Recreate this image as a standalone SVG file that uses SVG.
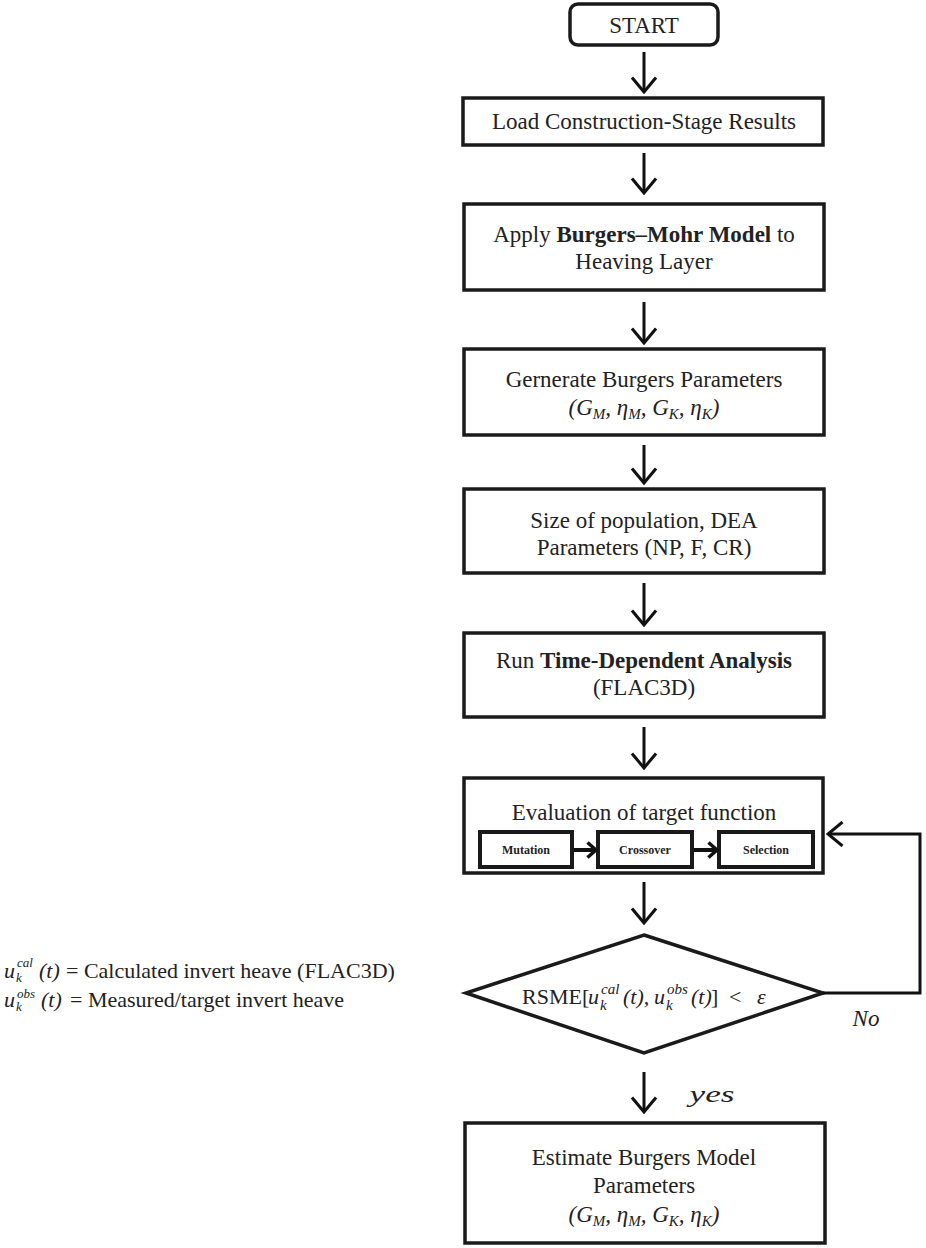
<svg xmlns="http://www.w3.org/2000/svg" width="926" height="1248" viewBox="0 0 926 1248">
<style>
.box{fill:#fff;stroke:#1a1a1a;stroke-width:3.5}
.mini{fill:#fff;stroke:#1a1a1a;stroke-width:4}
.t{font-family:"Liberation Serif","Times New Roman",serif;font-size:23px;fill:#222;text-anchor:middle}
.s{font-family:"Liberation Serif","Times New Roman",serif;font-size:22px;fill:#222}
.b{font-weight:bold}
.m{font-family:"Liberation Serif","Times New Roman",serif;font-style:italic}
.mt{font-family:"Liberation Serif","Times New Roman",serif;font-size:12px;font-weight:bold;fill:#222;text-anchor:middle}
.sm{font-family:"Liberation Serif","Times New Roman",serif;font-style:italic;font-size:15px;fill:#222}
.ls{font-family:"Liberation Serif","Times New Roman",serif;font-style:italic;font-size:13px;fill:#222}
.c{fill:none;stroke:#111;stroke-width:3}
.cs{fill:none;stroke:#111;stroke-width:4}
</style>
<defs>
<marker id="ah" markerUnits="userSpaceOnUse" viewBox="0 0 18 26" refX="16" refY="13" markerWidth="18" markerHeight="26" orient="auto">
<path d="M1.5,1 L16,13 L1.5,25" fill="none" stroke="#111" stroke-width="3"/>
</marker>
<marker id="ahs" markerUnits="userSpaceOnUse" viewBox="0 0 12 18" refX="10" refY="9" markerWidth="12" markerHeight="18" orient="auto">
<path d="M1.5,1.5 L10,9 L1.5,16.5" fill="none" stroke="#111" stroke-width="3.5"/>
</marker>
</defs>
<rect width="926" height="1248" fill="#fff"/>

<g id="start">
<rect class="box" x="570" y="4" width="148" height="41" rx="8"/>
<text class="t" x="644" y="33" font-size="26">START</text>
</g>

<g id="load">
<rect class="box" x="463" y="98" width="360" height="47"/>
<text class="t" x="644" y="129">Load Construction-Stage Results</text>
</g>

<g id="apply">
<rect class="box" x="464" y="204" width="360" height="86"/>
<text class="t" x="644" y="242">Apply <tspan class="b">Burgers–Mohr Model</tspan> to</text>
<text class="t" x="644" y="269">Heaving Layer</text>
</g>

<g id="generate">
<rect class="box" x="464" y="349" width="360" height="86"/>
<text class="t" x="644" y="387">Gernerate Burgers Parameters</text>
<text class="t m" x="644" y="415">(G<tspan font-size="15" dy="4">M</tspan><tspan dy="-4">, η</tspan><tspan font-size="15" dy="4">M</tspan><tspan dy="-4">, G</tspan><tspan font-size="15" dy="4">K</tspan><tspan dy="-4">, η</tspan><tspan font-size="15" dy="4">K</tspan><tspan dy="-4">)</tspan></text>
</g>

<g id="population">
<rect class="box" x="464" y="489" width="360" height="84"/>
<text class="t" x="644" y="528">Size of population, DEA</text>
<text class="t" x="644" y="555">Parameters (NP, F, CR)</text>
</g>

<g id="run">
<rect class="box" x="464" y="633" width="360" height="84"/>
<text class="t" x="644" y="668">Run <tspan class="b">Time-Dependent Analysis</tspan></text>
<text class="t" x="644" y="695">(FLAC3D)</text>
</g>

<g id="evaluation">
<rect class="box" x="464" y="778" width="359" height="95"/>
<text class="t" x="644" y="820">Evaluation of target function</text>
<g id="mutation">
<rect class="mini" x="480" y="832" width="92" height="35"/>
<text class="mt" x="526" y="854">Mutation</text>
</g>
<g id="crossover">
<rect class="mini" x="598" y="832" width="94" height="35"/>
<text class="mt" x="645" y="854">Crossover</text>
</g>
<g id="selection">
<rect class="mini" x="719" y="832" width="94" height="35"/>
<text class="mt" x="766" y="854">Selection</text>
</g>
</g>

<g id="decision">
<polygon class="box" points="644,935 823,993 644,1053 466,993"/>
<text class="s" x="522" y="1004">RSME[</text>
<text class="s m" x="588" y="1004">u</text>
<text class="sm" x="600" y="1010">k</text>
<text class="sm" x="601" y="994">cal</text>
<text class="s m" x="623" y="1004">(t),</text>
<text class="s m" x="654" y="1004">u</text>
<text class="sm" x="666" y="1010">k</text>
<text class="sm" x="667" y="994">obs</text>
<text class="s m" x="691" y="1004">(t)</text>
<text class="s" x="711" y="1004">]</text>
<text class="s" x="729" y="1004">&lt;</text>
<text class="s m" x="757" y="1004">ε</text>
<text class="t m" x="866" y="1026" font-size="25">No</text>
</g>

<g id="yes-label">
<text class="t m" x="712" y="1102" font-size="28" textLength="45" lengthAdjust="spacingAndGlyphs">yes</text>
</g>

<g id="estimate">
<rect class="box" x="465" y="1123" width="360" height="120"/>
<text class="t" x="644" y="1165">Estimate Burgers Model</text>
<text class="t" x="644" y="1193">Parameters</text>
<text class="t m" x="644" y="1222">(G<tspan font-size="15" dy="4">M</tspan><tspan dy="-4">, η</tspan><tspan font-size="15" dy="4">M</tspan><tspan dy="-4">, G</tspan><tspan font-size="15" dy="4">K</tspan><tspan dy="-4">, η</tspan><tspan font-size="15" dy="4">K</tspan><tspan dy="-4">)</tspan></text>
</g>

<g id="legend">
<text class="s m" x="4" y="978" font-size="23">u</text>
<text class="ls" x="16" y="982">k</text>
<text class="ls" x="17" y="967">cal</text>
<text class="s m" x="39" y="978" font-size="23">(t)</text>
<text class="s" x="66" y="978" font-size="23">= Calculated invert heave (FLAC3D)</text>
<text class="s m" x="4" y="1007" font-size="23">u</text>
<text class="ls" x="16" y="1011">k</text>
<text class="ls" x="17" y="998">obs</text>
<text class="s m" x="41" y="1007" font-size="23">(t)</text>
<text class="s" x="70" y="1007" font-size="23"> = Measured/target invert heave</text>
</g>

<g id="connectors">
<line class="c" x1="644" y1="52" x2="644" y2="92" marker-end="url(#ah)"/>
<line class="c" x1="644" y1="153" x2="644" y2="193" marker-end="url(#ah)"/>
<line class="c" x1="644" y1="302" x2="644" y2="343" marker-end="url(#ah)"/>
<line class="c" x1="644" y1="445" x2="644" y2="483" marker-end="url(#ah)"/>
<line class="c" x1="644" y1="583" x2="644" y2="625" marker-end="url(#ah)"/>
<line class="c" x1="644" y1="727" x2="644" y2="768" marker-end="url(#ah)"/>
<line class="c" x1="644" y1="882" x2="644" y2="923" marker-end="url(#ah)"/>
<line class="c" x1="644" y1="1072" x2="644" y2="1112" marker-end="url(#ah)"/>
<polyline class="c" points="823,993 920,993 920,834 828,834" marker-end="url(#ah)"/>
<line class="cs" x1="574" y1="850" x2="596" y2="850" marker-end="url(#ahs)"/>
<line class="cs" x1="694" y1="850" x2="717" y2="850" marker-end="url(#ahs)"/>
</g>
</svg>
